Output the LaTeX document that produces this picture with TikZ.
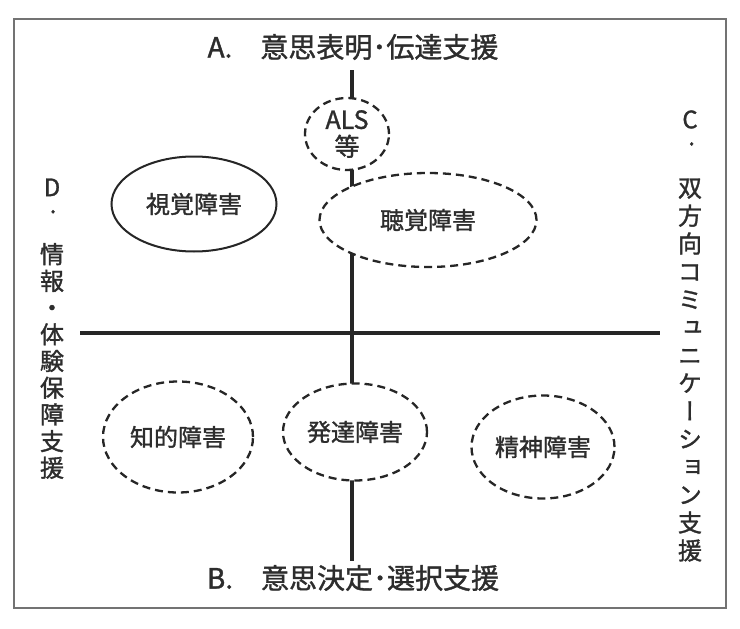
\documentclass[tikz,border=0pt]{standalone}
\usepackage{fontspec}
\setmainfont{Noto Sans CJK JP}[FakeBold=1.3]
\newfontfamily\cjkv{Noto Sans CJK JP}[RawFeature=+vert, FakeBold=1.3]
\usetikzlibrary{shapes.geometric}
\definecolor{ink}{RGB}{45,45,45}
\newcommand{\vdotlabel}[1]{\rlap{\raisebox{-17pt}{\hspace{6pt}.}}#1}
\tikzset{
  frame/.style={draw=black!55, line width=1.6pt},
  axis/.style={draw=black!85, line width=4.5pt},
  dis/.style={ellipse, draw=black!85, fill=white, line width=2.3pt, inner sep=0pt,
    text=ink, font=\fontsize{24}{28}\selectfont},
  dashdis/.style={dis, dash pattern=on 8pt off 5pt},
  axislabel/.style={text=ink, font=\fontsize{28}{30}\selectfont, inner sep=0pt},
  vlabel/.style={text=ink, align=center, inner sep=0pt, font=\cjkv\fontsize{24}{27}\selectfont}
}
\begin{document}
\begin{tikzpicture}[x=1pt,y=-1pt]
\useasboundingbox (0,0) rectangle (740,629);
\fill[white] (0,0) rectangle (740,629);
\draw[frame] (14,19) rectangle (726,608);

\coordinate (vtop) at (352,70);
\coordinate (vbot) at (352,561);
\coordinate (hl) at (80,333);
\coordinate (hr) at (660,333);
\draw[axis] (vtop) -- (vbot);
\draw[axis] (hl) -- (hr);

\node[axislabel] (A) at (353,47) {A.\hspace{28pt}意思表明･伝達支援};
\node[axislabel] (B) at (353,578) {B.\hspace{28pt}意思決定･選択支援};

\node[text=ink, inner sep=0pt, font=\fontsize{24}{24}\selectfont] (Cl) at (690,128) {\vdotlabel{C}};
\node[vlabel, font=\cjkv\fontsize{24}{27.9}\selectfont] (C) at (690,370)
  {双\\方\\向\\コ\\ミ\\ュ\\ニ\\ケ\\ー\\シ\\ョ\\ン\\支\\援};
\node[text=ink, inner sep=0pt, font=\fontsize{24}{24}\selectfont] (Dl) at (52,196) {\vdotlabel{D}};
\node[vlabel, font=\cjkv\fontsize{24}{26.7}\selectfont] (D) at (52,361)
  {情\\報\\・\\体\\験\\保\\障\\支\\援};

\node[dashdis, minimum width=84pt, minimum height=72pt, align=center,
  font=\fontsize{25}{27}\selectfont] (als) at (347,134) {ALS\\等};
\node[dashdis, minimum width=217pt, minimum height=94pt] (hear) at (428,220) {聴覚障害};
\node[dis, line width=2pt, minimum width=165pt, minimum height=95pt] (vis) at (194,204) {視覚障害};
\node[dashdis, minimum width=150pt, minimum height=111pt] (int) at (178,437) {知的障害};
\node[dashdis, minimum width=144pt, minimum height=97pt] (dev) at (355,432) {発達障害};
\node[dashdis, minimum width=143pt, minimum height=103pt] (men) at (543,447) {精神障害};
\end{tikzpicture}
\end{document}
